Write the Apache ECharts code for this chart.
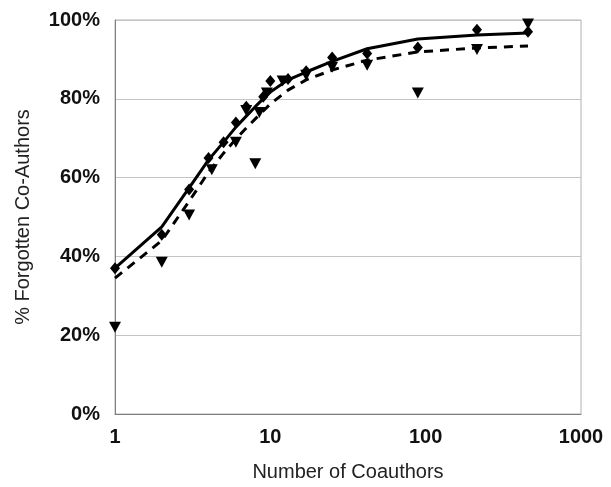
<!DOCTYPE html>
<html>
<head>
<meta charset="utf-8">
<script src="https://cdn.jsdelivr.net/npm/echarts@6/dist/echarts.min.js"></script>
<style>html,body{margin:0;padding:0;background:#fff}#c{width:611px;height:487px}</style>
</head>
<body>
<div id="c"></div>
<script>
// Diamond observations
var diamondX = [1, 2, 3, 4, 5, 6, 7, 9, 10, 13, 17, 25, 42, 89, 214, 456];
var diamondY = [37, 45.5, 57, 65, 69, 74, 78, 80.5, 84.5, 85, 87, 90.5, 91.5, 93, 97.5, 97];
// Triangle observations
var triangleX = [1, 2, 3, 4.2, 6, 7, 8, 8.5, 9.5, 12, 17, 25, 42, 89, 214, 456];
var triangleY = [22, 38.5, 50.5, 62, 69, 77, 63.5, 76.5, 81.5, 84.5, 86, 88, 88.5, 81.5, 92.5, 99];
// Fitted curves
var fitX = [1, 2, 3, 4, 5, 6, 7, 8, 9, 10, 13, 17, 25, 42, 89, 214, 456];
var solidFit = [37, 47.5, 57.4, 64.5, 69, 72.8, 75.6, 78, 80, 81.7, 84.8, 86.8, 89.5, 92.7, 95.2, 96.2, 96.7];
var dashedFit = [34.5, 44, 54, 61.4, 66.2, 69.8, 72.6, 74.9, 76.9, 78.7, 82.2, 84.8, 87.3, 89.8, 91.9, 92.9, 93.4];
var xTicks = [1, 10, 100, 1000];
var yTicks = [0, 20, 40, 60, 80, 100];

function pairs(xs, ys) { return xs.map(function (x, i) { return [x, ys[i]]; }); }

var chart = echarts.init(document.getElementById('c'), null, { renderer: 'canvas' });
chart.setOption({
  animation: false,
  backgroundColor: '#fff',
  grid: { left: 115, right: 30, top: 20, bottom: 73, show: true, borderColor: '#b0b0b0', borderWidth: 1 },
  xAxis: {
    type: 'log', logBase: 10, min: xTicks[0], max: xTicks[xTicks.length - 1],
    name: 'Number of Coauthors', nameLocation: 'middle', nameGap: 48,
    nameTextStyle: { fontFamily: 'Liberation Sans', fontSize: 20, color: '#222' },
    axisLine: { show: true, lineStyle: { color: '#808080', width: 1 } },
    axisTick: { show: false },
    splitLine: { show: false },
    axisLabel: { fontFamily: 'Liberation Sans', fontSize: 20, fontWeight: 'bold', color: '#111', margin: 13,
      formatter: function (v) { return String(Math.round(v)); } }
  },
  yAxis: {
    type: 'value', min: yTicks[0], max: yTicks[yTicks.length - 1], interval: 20,
    name: '% Forgotten Co-Authors', nameLocation: 'middle', nameGap: 82, nameRotate: 90,
    nameTextStyle: { fontFamily: 'Liberation Sans', fontSize: 20, color: '#222' },
    axisLine: { show: true, lineStyle: { color: '#808080', width: 1 } },
    axisTick: { show: false },
    splitLine: { show: true, lineStyle: { color: '#c4c4c4', width: 1 } },
    axisLabel: { formatter: '{value}%', fontFamily: 'Liberation Sans', fontSize: 20, fontWeight: 'bold', color: '#111', margin: 15 }
  },
  series: [
    { type: 'line', data: pairs(fitX, solidFit), showSymbol: false, symbol: 'none',
      lineStyle: { color: '#000', width: 3, type: 'solid' }, z: 3 },
    { type: 'line', data: pairs(fitX, dashedFit), showSymbol: false, symbol: 'none',
      lineStyle: { color: '#000', width: 3, type: [9, 7] }, z: 3 },
    { type: 'scatter', data: pairs(diamondX, diamondY), symbol: 'diamond', symbolSize: [10, 12],
      itemStyle: { color: '#000', opacity: 1 }, z: 4 },
    { type: 'scatter', data: pairs(triangleX, triangleY), symbol: 'triangle', symbolRotate: 180, symbolSize: [12, 11],
      itemStyle: { color: '#000', opacity: 1 }, z: 4 }
  ]
});
</script>
</body>
</html>
